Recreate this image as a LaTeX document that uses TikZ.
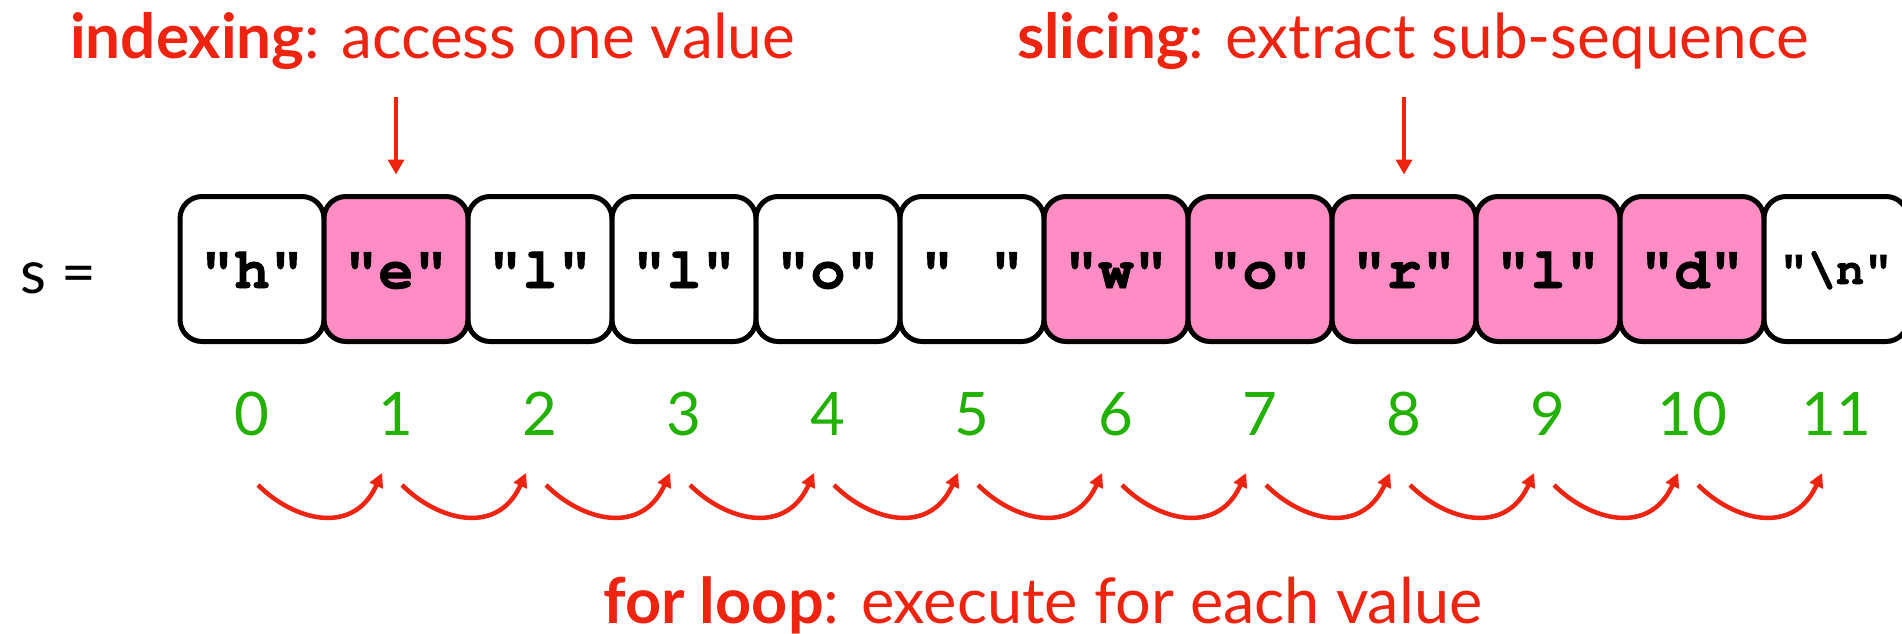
\documentclass[tikz,border=0pt]{standalone}
\usepackage{fontspec}
\setmainfont{Lato}
\newfontfamily\codefont{texgyrecursor}[Extension=.otf, UprightFont=*-regular, BoldFont=*-bold, BoldFeatures={FakeBold=1.6}]
\usetikzlibrary{arrows.meta}
\definecolor{myred}{RGB}{238,36,16}
\definecolor{mypink}{RGB}{255,140,196}
\definecolor{mygreen}{RGB}{34,177,0}
\tikzset{
  cellbox/.style={draw=black, line width=5pt, rounded corners=22pt, minimum width=144pt, minimum height=145pt, inner sep=0pt, fill=white},
  hl/.style={fill=mypink},
  celltext/.style={font=\codefont\bfseries\fontsize{58}{60}\selectfont, inner sep=0pt, anchor=base},
  idx/.style={font=\fontsize{60}{66}\selectfont, text=mygreen, inner sep=0pt, anchor=base},
  heading/.style={font=\fontsize{62}{70}\selectfont, text=myred, inner sep=0pt, anchor=base west},
  downarrow/.style={draw=myred, line width=4.5pt, -{Triangle[length=15pt,width=16pt]}},
  looparrow/.style={draw=myred, line width=4.5pt, -{Triangle[length=14pt,width=14pt]}},
}
\begin{document}
\begin{tikzpicture}[x=1pt,y=-1pt]
\clip (0,0) rectangle (1902,634);
\fill[white] (0,0) rectangle (1902,634);
% s =
\node[font=\fontsize{60}{66}\selectfont, inner sep=0pt, anchor=base west] (slabel) at (20,293) {s =};
% boxes
\foreach \i/\t/\h in {0/h/0,1/e/1,2/l/0,3/l/0,4/o/0,5/{\ }/0,6/w/1,7/o/1,8/r/1,9/l/1,10/d/1}{
  \ifnum\h=1
    \node[cellbox, hl] (b\i) at (252+144*\i,269) {};
  \else
    \node[cellbox] (b\i) at (252+144*\i,269) {};
  \fi
  \node[celltext] (c\i) at (252+144*\i,288) {"\t"};
}
\node[cellbox] (b11) at (252+144*11,269) {};
\node[celltext, font=\codefont\bfseries\fontsize{47}{50}\selectfont] (c11) at (252+144*11,284) {"\textbackslash n"};
% indices
\foreach \i in {0,...,11}{
  \node[idx] (n\i) at (252+144*\i,435) {\i};
}
% headings
\node[heading] (hidx) at (70,59) {\textbf{indexing}: access one value};
\node[heading] (hslc) at (1017,59) {\textbf{slicing}: extract sub-sequence};
\node[heading, font=\fontsize{63}{72}\selectfont] (hloop) at (603,623) {\textbf{for loop}: execute for each value};
% down arrows
\coordinate (t1) at (396,97);
\coordinate (t8) at (1404,97);
\draw[downarrow, shorten >=19.5pt] (t1) -- (b1.north);
\draw[downarrow, shorten >=19.5pt] (t8) -- (b8.north);
% loop arrows
\foreach \i in {0,...,10}{
  \coordinate (ls\i) at (252+144*\i+6,485);
  \coordinate (le\i) at (252+144*\i+130,473);
  \draw[looparrow] (ls\i) .. controls +(35,35) and +(-29,64) .. (le\i);
}
\end{tikzpicture}
\end{document}
